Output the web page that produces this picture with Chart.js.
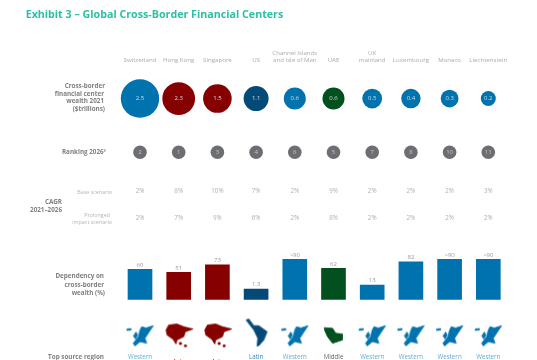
<!DOCTYPE html>
<html>
<head>
<meta charset="utf-8">
<style>
  html,body{margin:0;padding:0;background:#fff;}
  #wrap{width:537px;height:360px;overflow:hidden;}
</style>
<script src="https://cdn.jsdelivr.net/npm/chart.js@4/dist/chart.umd.min.js"></script>
</head>
<body>
<div id="wrap"><canvas id="chart" width="537" height="360"></canvas></div>
<script>
// ----------------- data -----------------
const centers = ['Switzerland','Hong Kong','Singapore','US',['Channel Islands','and Isle of Man'],'UAE',['UK','mainland'],'Luxembourg','Monaco','Liechtenstein'];
const wealth = ['2.5','2.3','1.5','1.1','0.6','0.6','0.5','0.4','0.3','0.2'];
const ranking = ['2','1','3','4','6','5','7','8','10','11'];
const cagrBase = ['2%','8%','10%','7%','2%','9%','2%','2%','2%','3%'];
const cagrProlonged = ['2%','7%','9%','6%','2%','8%','2%','2%','2%','2%'];
// printed labels, and the bar heights as they are actually drawn in the exhibit (not to the printed scale)
const dependencyLabels = ['60','51','73','1.3','>90','62','13','82','>90','>90'];
const dependencyBars = [60,54,69,21,80,62,29,75,80,80];
const sourceRegion = ['Western','Asia','Asia','Latin','Western','Middle','Western','Western','Western','Western'];
const regionOf = ['eu','asia','asia','latam','eu','me','eu','eu','eu','eu'];

// ----------------- styles -----------------
const BLUE='#0072ae', RED='#870000', NAVY='#034a78', GREEN='#03501f', GREY='#6d6e72';
const regionColor = {eu:BLUE, asia:RED, latam:NAVY, me:GREEN};
const regionText = {eu:'#62add2', asia:'#b03030', latam:'#3a86b5', me:'#666666'};
const bubbleRadius = [19.2,16.4,14.3,12.5,11,11,9.9,9.7,8.9,7.5];
const FONT = '"Open Sans", sans-serif';
// row positions, in page pixels (the row axis runs 66..360 top to bottom)
const ROW = {wealth:98.7, rank:152.3, base:191.7, prolonged:218.7, icon:331, source:357};

// ----------------- region icons -----------------
// rough outlines, offset from the icon centre
const shapes = {
  eu:[[[-13,-2],[-9,-2.5],[-9,-1],[-13,-0.5]],
      [[-6.5,5],[-4,1],[-2.5,4],[-4.5,8]],
      [[1.7,-4.3],[6,-3],[13.3,-5.3],[8.3,2.3],[5,7.3],[6.7,12.3],[0,10.7],[-5,15],[-6.7,12.3],[-1.7,5.7],[0,-1]]],
  asia:[[[-12.7,-1],[-10,-6],[-1.7,-7],[5,-4.3],[14.3,-2],[6.7,0.7],[5,5.7],[-1.7,9],[-2.7,13],[-5.7,8.3],[-11.7,4]],
      [[0.7,11.5],[2.7,11.5],[2.7,13.5],[0.7,13.5]],
      [[5.7,14],[7.7,14],[7.7,15.7],[5.7,15.7]]],
  latam:[[[-10,-11],[-7.3,-12],[-2.3,-5.3],[2.7,-5.3],[11,0.7],[7.7,9],[2.7,14.7],[1,15],[1.7,7.3],[-2.3,-1],[-5.7,-5.3]]],
  me:[[[-9.3,-3.3],[-1,-2.7],[2.3,2.3],[9,3],[9,9],[-1,12.3],[-6,5.7],[-8.7,-0.3]]]
};
function regionIcon(key){
  const c=document.createElement('canvas');
  c.width=41;c.height=41;
  const g=c.getContext('2d');
  g.fillStyle=g.strokeStyle=regionColor[key];
  g.lineWidth=0.8;
  g.lineJoin='round';
  shapes[key].forEach(p=>{
    g.beginPath();
    p.forEach((pt,i)=> i? g.lineTo(pt[0]+20.5,pt[1]+20.5) : g.moveTo(pt[0]+20.5,pt[1]+20.5));
    g.closePath();
    g.fill();
    g.stroke();
  });
  return c;
}
const icons = regionOf.map(regionIcon);

// ----------------- text around the chart -----------------
const bold='bold 6.3px '+FONT, light='5.4px '+FONT;
const sideNotes = [
  {t:'Cross-border',x:105,y:86,f:bold,c:'#808080'},
  {t:'financial center',x:104,y:94,f:bold,c:'#808080'},
  {t:'wealth 2021',x:104,y:101.7,f:bold,c:'#808080'},
  {t:'($trillions)',x:105,y:109.5,f:bold,c:'#808080'},
  {t:'Ranking 2026³',x:106,y:152.7,f:bold,c:'#808080'},
  {t:'Base scenario',x:112,y:192,f:light,c:'#b5b5b5'},
  {t:'CAGR',x:62,y:202.7,f:bold,c:'#808080'},
  {t:'2021–2026',x:62,y:210.5,f:bold,c:'#808080'},
  {t:'Prolonged',x:110,y:215,f:light,c:'#b5b5b5'},
  {t:'impact scenario',x:112,y:222,f:light,c:'#b5b5b5'},
  {t:'Dependency on',x:104,y:276.7,f:bold,c:'#808080'},
  {t:'cross-border',x:104,y:285,f:bold,c:'#808080'},
  {t:'wealth (%)',x:105,y:293,f:bold,c:'#808080'},
  {t:'Top source region',x:104,y:357,f:bold,c:'#808080'}
];

const labelPlugin = {
  id:'labelPlugin',
  afterDatasetsDraw(chart){
    const ctx=chart.ctx;
    ctx.save();
    ctx.textBaseline='middle';
    ctx.textAlign='center';
    chart.data.datasets.forEach((ds,di)=>{
      if(!ds.texts) return;
      const meta=chart.getDatasetMeta(di);
      meta.data.forEach((el,i)=>{
        ctx.font=ds.textFont;
        ctx.fillStyle=Array.isArray(ds.textColor)?ds.textColor[i]:ds.textColor;
        const dy=Array.isArray(ds.textDy)?ds.textDy[i]:(ds.textDy||0);
        ctx.fillText(ds.texts[i],el.x,el.y+dy);
      });
    });
    ctx.textAlign='right';
    sideNotes.forEach(n=>{
      ctx.font=n.f;
      ctx.fillStyle=n.c;
      ctx.fillText(n.t,n.x,n.y);
    });
    ctx.restore();
  }
};

// ----------------- chart -----------------
const rowSet = (y,extra)=>Object.assign({type:'line',showLine:false,yAxisID:'yRow',clip:false,pointRadius:0,
  pointHoverRadius:0,data:centers.map(()=>y)},extra);

new Chart(document.getElementById('chart').getContext('2d'),{
  type:'bar',
  data:{
    labels:centers,
    datasets:[
      {yAxisID:'yBar',data:dependencyBars,backgroundColor:regionOf.map(r=>regionColor[r]),barThickness:24,
        texts:dependencyLabels,textFont:'6px '+FONT,textColor:'#9a9a9a',textDy:-4.5},
      rowSet(ROW.wealth,{pointRadius:bubbleRadius,pointBackgroundColor:regionOf.map(r=>regionColor[r]),pointBorderWidth:0,
        texts:wealth,textFont:'6px '+FONT,textColor:'#d5dde2'}),
      rowSet(ROW.rank,{pointRadius:6.8,pointBackgroundColor:GREY,pointBorderWidth:0,
        texts:ranking,textFont:'6px '+FONT,textColor:'#c4c4c6'}),
      rowSet(ROW.base,{texts:cagrBase,textFont:'6.2px '+FONT,textColor:'#b0b0b0'}),
      rowSet(ROW.prolonged,{texts:cagrProlonged,textFont:'6.2px '+FONT,textColor:'#b0b0b0'}),
      rowSet(ROW.icon,{pointStyle:icons,pointRadius:20}),
      rowSet(ROW.source,{texts:sourceRegion,textFont:'6.2px '+FONT,textColor:regionOf.map(r=>regionText[r]),
        textDy:regionOf.map(r=>r==='asia'?5:0)})
    ]
  },
  options:{
    responsive:false,
    animation:false,
    layout:{autoPadding:false,padding:{left:25.65,right:29.35,top:0,bottom:0}},
    plugins:{
      legend:{display:false},
      tooltip:{enabled:false},
      title:{display:true,text:'Exhibit 3 – Global Cross-Border Financial Centers',align:'start',color:'#2dbfa3',
        font:{family:FONT,size:10.7,weight:'bold'},padding:{top:8.5,bottom:4.5}}
    },
    scales:{
      x:{position:'top',offset:true,border:{display:false},grid:{display:false,drawTicks:false},
        ticks:{autoSkip:false,maxRotation:0,minRotation:0,color:'#ababab',font:{family:FONT,size:6.1},padding:2},
        afterFit(s){s.height=40;}},
      yRow:{position:'left',reverse:true,min:66,max:360,border:{display:false},grid:{display:false},
        ticks:{display:false},afterFit(s){s.width=95;}},
      yBar:{display:false,min:-121,max:467}
    }
  },
  plugins:[labelPlugin]
});
</script>
</body>
</html>
